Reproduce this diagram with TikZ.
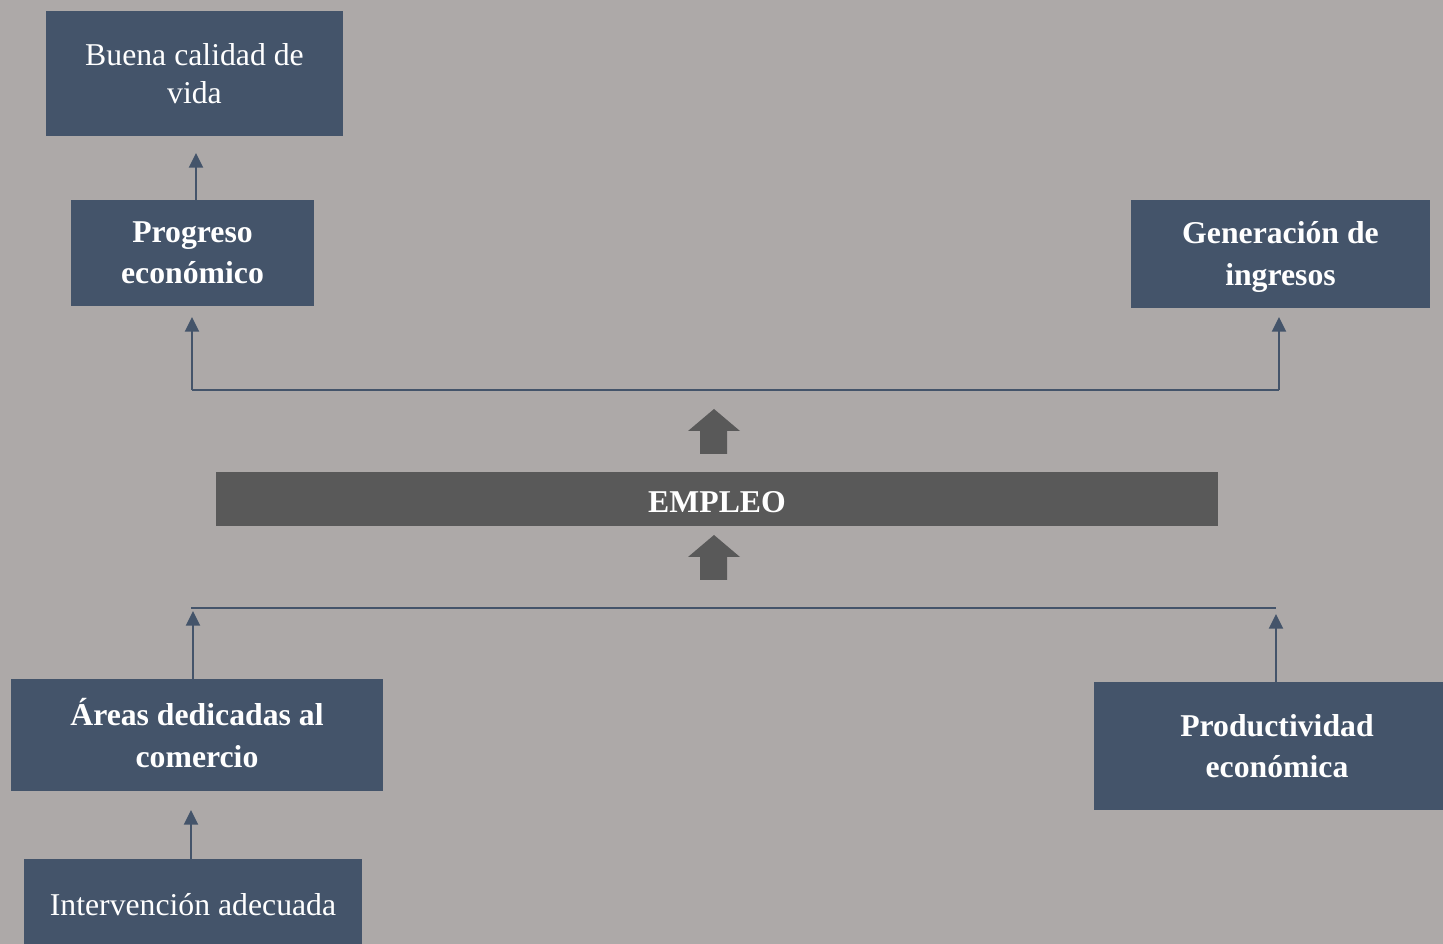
\documentclass[tikz,border=0pt]{standalone}
\usepackage{fontspec}
\setmainfont{Liberation Serif}
\usetikzlibrary{arrows.meta}
\definecolor{bgc}{HTML}{ADA9A8}
\definecolor{boxc}{HTML}{44546A}
\definecolor{darkc}{HTML}{595959}
\tikzset{
  bluebox/.style={fill=boxc, draw=none, text=white, inner sep=0pt, align=center,
    font=\fontsize{23.8}{29}\selectfont},
  boldbox/.style={bluebox, font=\fontsize{23.8}{31}\selectfont\bfseries},
  boldtext/.style={text=white, inner sep=0pt, align=center, font=\fontsize{23.8}{31}\selectfont\bfseries},
  conn/.style={draw=boxc, line width=1.6pt, -{Triangle[width=10.5pt,length=11pt]}},
  hline/.style={draw=boxc, line width=1.1pt},
  blockarrow/.style={fill=darkc, draw=none}
}
\begin{document}
\begin{tikzpicture}[x=0.75pt,y=-0.75pt]
\useasboundingbox (0,0) rectangle (1443,944);
\clip (0,0) rectangle (1443,944);
\fill[bgc] (0,0) rectangle (1443,944);

\node[bluebox, minimum width=297*0.75pt, minimum height=125*0.75pt] (buena) at (194.5,73.5) {Buena calidad de\\vida};
\node[boldbox, minimum width=243*0.75pt, minimum height=106*0.75pt] (progreso) at (192.5,253) {Progreso\\económico};
\node[boldbox, minimum width=299*0.75pt, minimum height=108*0.75pt] (generacion) at (1280.5,254) {};
\node[boldtext] (generacion-t) at (1280.5,257) {Generación de\\ingresos};
\node[boldbox, fill=darkc, minimum width=1002*0.75pt, minimum height=54*0.75pt] (empleo) at (717,499) {};
\node[boldtext] (empleo-t) at (717,502) {EMPLEO};
\node[boldbox, minimum width=372*0.75pt, minimum height=112*0.75pt] (areas) at (197,735) {};
\node[boldtext] (areas-t) at (197,733) {Áreas dedicadas al\\comercio};
\node[boldbox, minimum width=349*0.75pt, minimum height=128*0.75pt] (produc) at (1268.5,746) {};
\node[boldtext] (produc-t) at (1277,746) {Productividad\\económica};
\node[bluebox, minimum width=338*0.75pt, minimum height=92*0.75pt] (interv) at (193,905) {Intervención adecuada};

% top connections
\coordinate (tl) at (192,390);
\coordinate (tr) at (1279,390);
\coordinate (tlt) at (192,317);
\coordinate (trt) at (1279,317);
\draw[hline] (tl) -- (tr);
\draw[conn] (tl) -- (tlt);
\draw[conn] (tr) -- (trt);
\coordinate (pb) at (196,200);
\coordinate (bt) at (196,153);
\draw[conn] (pb) -- (bt);

% bottom connections
\coordinate (bl) at (191,608);
\coordinate (br) at (1276,608);
\draw[hline] (bl) -- (br);
\draw[conn] (areas.north -| 193,0) -- (193,611);
\draw[conn] (produc.north -| 1276,0) -- (1276,614);
\draw[conn] (interv.north -| 191,0) -- (191,810);

% block arrows
\fill[blockarrow] (700,454) -- (700,431) -- (688,431) -- (714,409) -- (740,431) -- (727,431) -- (727,454) -- cycle;
\fill[blockarrow] (700,580) -- (700,557) -- (688,557) -- (714,535) -- (740,557) -- (727,557) -- (727,580) -- cycle;
\end{tikzpicture}
\end{document}
